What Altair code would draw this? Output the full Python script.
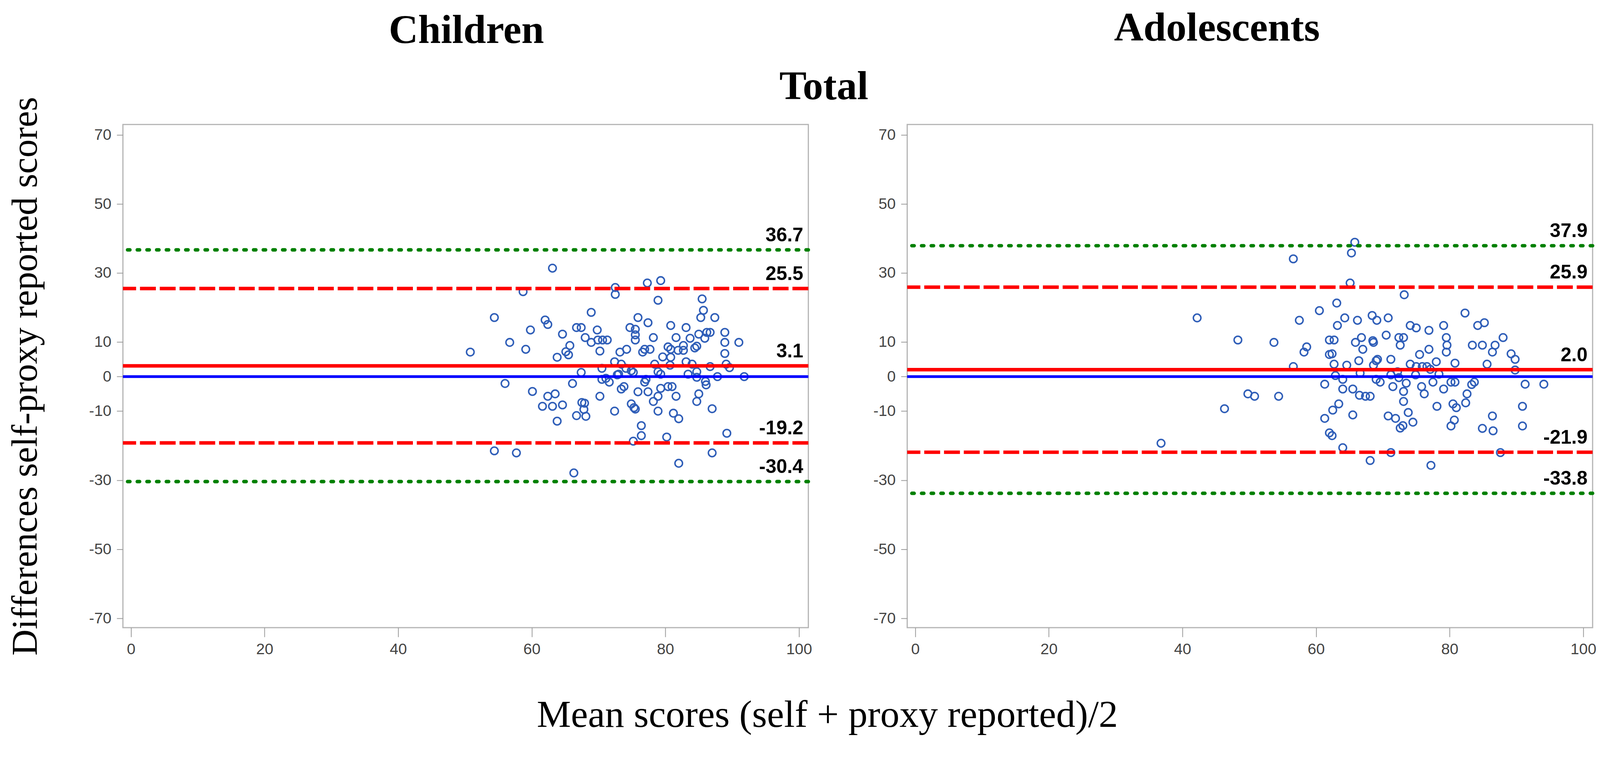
import altair as alt
import pandas as pd

# ---------------- data ----------------
child_x = [63.1, 77.3, 79.3, 72.5, 58.7, 72.5, 78.9, 85.5, 85.7, 68.9,
           54.4, 75.9, 85.3, 87.4, 62.0, 62.4, 77.4, 80.8, 66.7, 67.4,
           74.7, 75.5, 83.1, 59.8, 69.8, 88.9, 64.6, 75.5, 85.0, 86.2,
           86.7, 68.0, 78.2, 81.6, 83.7, 85.9, 75.5, 69.9, 70.6, 71.3,
           56.7, 68.9, 88.9, 91.0, 65.7, 82.7, 84.7, 80.4, 59.1, 74.2,
           76.9, 77.7, 80.8, 81.9, 82.7, 84.4, 50.8, 70.2, 73.2, 76.6,
           65.1, 65.5, 88.9, 63.8, 79.6, 80.8, 72.4, 78.4, 83.1, 84.0,
           73.4, 89.1, 89.6, 86.7, 80.7, 70.5, 74.1, 74.9, 75.2, 67.4,
           78.9, 79.3, 72.8, 73.0, 83.4, 84.7, 71.1, 70.5, 71.6, 77.1,
           76.9, 84.7, 87.8, 91.8, 86.0, 86.1, 56.0, 66.1, 73.8, 73.4,
           80.4, 81.0, 79.3, 60.1, 75.9, 77.4, 85.0, 62.4, 63.5, 70.2,
           78.9, 81.6, 78.2, 84.7, 67.5, 67.9, 74.9, 64.6, 61.6, 63.1,
           75.3, 75.5, 67.8, 87.0, 72.4, 78.9, 81.2, 66.7, 68.1, 82.0,
           63.8, 76.4, 76.4, 80.2, 89.2, 75.2, 54.4, 57.7, 87.0, 82.0,
           66.3]
child_y = [31.4, 27.1, 27.8, 25.8, 24.6, 23.8, 22.1, 22.5, 19.2, 18.6,
           17.1, 17.1, 17.1, 17.1, 16.4, 15.1, 15.6, 14.8, 14.2, 14.2,
           14.2, 13.7, 14.2, 13.5, 13.5, 12.8, 12.3, 12.1, 12.3, 12.8,
           12.8, 11.3, 11.3, 11.3, 11.1, 11.1, 10.6, 10.6, 10.6, 10.6,
           9.9, 9.9, 9.9, 9.9, 9.0, 9.0, 8.8, 8.6, 7.9, 7.9,
           7.9, 7.9, 7.9, 7.6, 7.6, 8.3, 7.1, 7.4, 7.1, 7.1,
           7.2, 6.3, 6.7, 5.6, 5.7, 5.6, 4.3, 3.6, 4.3, 3.6,
           3.6, 3.6, 2.6, 2.9, 3.3, 2.4, 2.4, 1.7, 1.2, 1.2,
           1.4, 0.7, 0.5, 0.7, 0.7, 1.4, -0.5, -0.8, -1.6, -0.8,
           -1.6, -0.2, 0.0, 0.0, -1.4, -2.4, -2.0, -2.0, -2.9, -3.6,
           -2.9, -2.9, -3.4, -4.3, -4.4, -4.4, -5.0, -5.7, -5.0, -5.7,
           -5.7, -5.7, -7.2, -7.2, -7.5, -7.7, -7.9, -8.2, -8.6, -8.6,
           -9.0, -9.4, -9.5, -9.3, -10.0, -10.0, -10.6, -11.3, -11.5, -12.2,
           -12.9, -14.2, -17.1, -17.5, -16.4, -18.7, -21.5, -22.1, -22.1, -25.1,
           -27.9]

adol_x = [65.8, 65.3, 56.6, 65.1, 73.2, 63.1, 60.5, 82.3, 68.4, 70.8,
          42.2, 64.3, 57.5, 66.2, 69.1, 85.2, 84.2, 79.1, 63.2, 74.1,
          75.0, 76.9, 70.5, 66.8, 72.4, 73.1, 79.5, 88.0, 48.3, 62.0,
          62.7, 68.5, 68.6, 53.7, 65.9, 72.6, 79.6, 83.4, 84.9, 86.8,
          58.6, 67.0, 76.9, 58.2, 62.0, 62.4, 75.5, 79.5, 86.4, 89.2,
          69.2, 69.0, 71.2, 89.8, 66.4, 78.0, 80.8, 85.6, 74.1, 62.7,
          64.6, 68.6, 56.6, 75.0, 75.9, 76.6, 77.1, 89.8, 66.6, 72.2,
          78.4, 74.9, 71.2, 62.9, 72.4, 64.0, 69.0, 69.6, 77.5, 80.2,
          80.8, 73.5, 83.7, 83.3, 91.3, 94.1, 61.3, 75.8, 71.5, 49.8,
          50.8, 54.4, 64.0, 65.5, 79.1, 73.1, 76.2, 82.6, 66.5, 67.4,
          68.1, 73.1, 80.5, 82.4, 63.4, 78.1, 81.0, 90.9, 46.3, 62.5,
          73.8, 65.5, 70.8, 71.9, 61.3, 86.4, 80.7, 74.5, 73.0, 72.6,
          80.2, 90.9, 84.9, 86.5, 62.0, 62.4, 36.8, 64.0, 71.2, 87.6,
          68.1, 77.2]
adol_y = [38.9, 35.8, 34.1, 27.1, 23.7, 21.3, 19.1, 18.4, 17.7, 17.0,
          17.0, 17.0, 16.3, 16.3, 16.3, 15.6, 14.8, 14.8, 14.8, 14.8,
          14.1, 13.4, 12.0, 11.3, 11.3, 11.3, 11.3, 11.3, 10.6, 10.6,
          10.6, 10.4, 9.9, 9.9, 9.9, 9.1, 9.1, 9.1, 9.1, 9.1,
          8.6, 7.9, 7.9, 7.1, 6.4, 6.6, 6.4, 7.1, 7.1, 6.6,
          5.0, 4.6, 5.0, 5.0, 4.6, 4.3, 3.9, 3.6, 3.6, 3.6,
          3.3, 3.3, 2.9, 2.9, 2.9, 2.9, 2.1, 1.9, 1.0, 1.4,
          0.7, 0.5, 0.5, 0.3, -0.3, -0.8, -0.8, -1.6, -1.6, -1.6,
          -1.6, -1.9, -1.6, -2.3, -2.2, -2.2, -2.2, -2.9, -2.9, -5.0,
          -5.7, -5.7, -3.6, -3.6, -3.6, -4.3, -5.0, -5.0, -5.4, -5.7,
          -5.7, -7.2, -7.9, -7.6, -7.9, -8.6, -9.0, -8.6, -9.3, -9.7,
          -10.4, -11.1, -11.4, -12.1, -12.1, -11.4, -12.6, -13.2, -14.2, -14.9,
          -14.3, -14.3, -15.0, -15.7, -16.3, -17.1, -19.3, -20.6, -22.0, -22.0,
          -24.3, -25.7]

# limits of agreement: upper 95% CI, upper LoA, mean, lower LoA, lower 95% CI
child_outer = [36.7, -30.4]
child_loa = [25.5, -19.2]
child_mean = [3.1]
adol_outer = [37.9, -33.8]
adol_loa = [25.9, -21.9]
adol_mean = [2.0]
zero_line = [0]

x_ticks = [0, 20, 40, 60, 80, 100]
y_ticks = [70, 50, 30, 10, 0, -10, -30, -50, -70]

panel_titles = ["Children", "Adolescents"]
main_title = ["Total"]
y_title = "Differences self-proxy reported scores"
x_title = "Mean scores (self + proxy reported)/2"

# ---------------- styling ----------------
W, H = 1768, 1298
XDOM = [-1.2, 101.4]
YDOM = [-72.7, 73.0]
BLUE_PT = "#2f5eb8"
SERIF = "Liberation Serif, Times New Roman, serif"
SANS = "Liberation Sans, Arial, sans-serif"


def panel(xs, ys, outer, loa, mean, head, head_x, head_y, with_ytitle, with_total):
    xsc = alt.Scale(domain=XDOM, nice=False, zero=False)
    ysc = alt.Scale(domain=YDOM, nice=False, zero=False)
    xaxis = alt.Axis(values=x_ticks, title=None, labelExpr="'' + datum.value")
    if with_ytitle:
        yaxis = alt.Axis(values=y_ticks, title=y_title, labelExpr="'' + datum.value",
                         titleFont=SERIF, titleFontSize=94, titleFontWeight="normal",
                         titleColor="black", titleX=-203, titleY=H / 2,
                         titleBaseline="bottom", titleAlign="center", titleAngle=270)
    else:
        yaxis = alt.Axis(values=y_ticks, title=None, labelExpr="'' + datum.value")

    pts = pd.DataFrame({"x": xs, "y": ys})
    points = alt.Chart(pts).mark_point(
        shape="circle", filled=False, size=380, strokeWidth=3.8,
        color=BLUE_PT, opacity=1
    ).encode(
        x=alt.X("x:Q", scale=xsc, axis=xaxis),
        y=alt.Y("y:Q", scale=ysc, axis=yaxis),
    )

    zero = alt.Chart(pd.DataFrame({"v": zero_line})).mark_rule(
        color="#0000ff", strokeWidth=7
    ).encode(y=alt.Y("v:Q", scale=ysc))
    mean_r = alt.Chart(pd.DataFrame({"v": mean})).mark_rule(
        color="#ff0000", strokeWidth=9
    ).encode(y=alt.Y("v:Q", scale=ysc))
    loa_r = alt.Chart(pd.DataFrame({"v": loa})).mark_rule(
        color="#ff0000", strokeWidth=9, strokeDash=[41, 10]
    ).encode(y=alt.Y("v:Q", scale=ysc))
    outer_r = alt.Chart(pd.DataFrame({"v": outer})).mark_rule(
        color="#008000", strokeWidth=9, strokeDash=[6, 19], strokeCap="round"
    ).encode(y=alt.Y("v:Q", scale=ysc))

    vals = outer + loa + mean
    labs = pd.DataFrame({"v": vals, "lab": [f"{v:.1f}" for v in vals]})
    lab_t = alt.Chart(labs).mark_text(
        align="right", baseline="alphabetic", dy=-22, font=SANS, fontSize=50,
        fontWeight="bold", color="black"
    ).encode(x=alt.value(W - 13), y=alt.Y("v:Q", scale=ysc), text="lab:N")

    head_t = alt.Chart(pd.DataFrame({"t": [head]})).mark_text(
        align="center", baseline="alphabetic", font=SERIF, fontSize=105,
        fontWeight="bold", color="black"
    ).encode(x=alt.value(head_x), y=alt.value(head_y), text="t:N")

    layers = [points, zero, mean_r, loa_r, outer_r, lab_t, head_t]
    if with_total:
        tot_t = alt.Chart(pd.DataFrame({"t": main_title})).mark_text(
            align="center", baseline="alphabetic", font=SERIF, fontSize=105,
            fontWeight="bold", color="black"
        ).encode(x=alt.value(1808), y=alt.value(-65), text="t:N")
        layers.append(tot_t)
    return alt.layer(*layers).properties(width=W, height=H)


left = panel(child_x, child_y, child_outer, child_loa, child_mean,
             panel_titles[0], W / 2 + 2, -210, True, True)
right = panel(adol_x, adol_y, adol_outer, adol_loa, adol_mean,
              panel_titles[1], 799, -216, False, False)

chart = alt.hconcat(left, right, spacing=255, bounds="flush").properties(
    padding={"left": 9, "top": 4, "right": 0, "bottom": 0},
    title=alt.TitleParams(
        text=x_title, orient="bottom", anchor="middle", font=SERIF,
        fontSize=99, fontWeight="normal", color="black", offset=100, dx=66
    ),
).configure_view(
    stroke="#b4b4b4", strokeWidth=3
).configure_axis(
    grid=False, domain=False, tickColor="#9a9a9a", tickWidth=2, tickSize=16,
    labelFont=SANS, labelFontSize=40, labelColor="#444444", labelPadding=14
).configure_axisX(
    tickSize=24, labelPadding=12
)

chart.save("out.html", embed_options={"renderer": "svg", "actions": False})
